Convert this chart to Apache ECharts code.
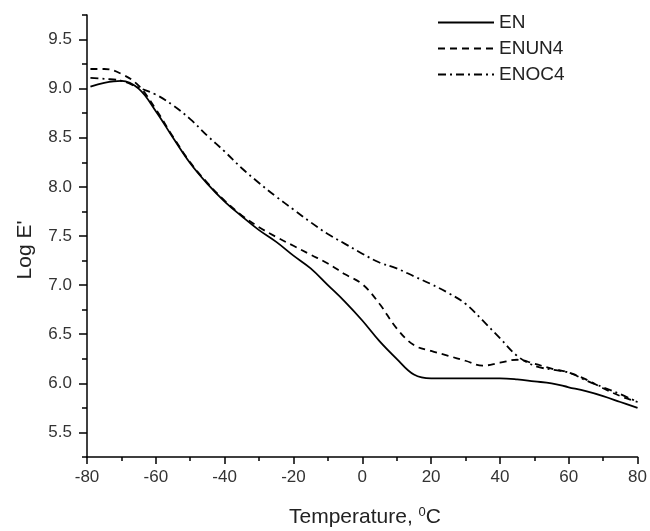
<!DOCTYPE html>
<html>
<head>
<meta charset="utf-8">
<script src="https://cdn.jsdelivr.net/npm/echarts@6/dist/echarts.min.js"></script>
<style>html,body{margin:0;padding:0;background:#fff}#c{width:650px;height:531px}</style>
</head>
<body>
<div id="c"></div>
<script>
const temps = [-79,-75,-70,-65,-60,-55,-50,-45,-40,-35,-30,-25,-20,-15,-10,-5,0,5,10,15,20,25,30,35,40,45,50,55,60,65,70,75,80];
const EN =    [9.02,9.06,9.08,9.00,8.77,8.50,8.24,8.03,7.85,7.70,7.56,7.44,7.30,7.17,7.00,6.83,6.64,6.43,6.25,6.09,6.05,6.05,6.05,6.05,6.05,6.04,6.02,6.00,5.96,5.92,5.87,5.81,5.75];
const ENUN4 = [9.20,9.20,9.15,9.03,8.79,8.51,8.25,8.04,7.86,7.71,7.59,7.49,7.40,7.31,7.22,7.11,7.01,6.81,6.56,6.39,6.33,6.28,6.23,6.18,6.21,6.24,6.20,6.15,6.11,6.04,5.95,5.87,5.81];
const ENOC4 = [9.11,9.10,9.08,9.01,8.94,8.83,8.69,8.52,8.36,8.19,8.04,7.90,7.77,7.64,7.52,7.42,7.32,7.23,7.17,7.09,7.01,6.92,6.81,6.64,6.46,6.28,6.18,6.14,6.11,6.03,5.96,5.89,5.81];
const seriesNames = ['EN','ENUN4','ENOC4'];
const xTicks = [-80,-60,-40,-20,0,20,40,60,80];
const yTicks = [5.5,6.0,6.5,7.0,7.5,8.0,8.5,9.0,9.5];

const FONT = 'Liberation Sans, Arial, sans-serif';
const chart = echarts.init(document.getElementById('c'), null, {renderer:'canvas'});
const pair = arr => temps.map((t,i)=>[t, arr[i]]);
const G = {left:87, right:10, top:15, bottom:74};
const unit = (531 - G.top - G.bottom) / 4.5;
const styles = [
  {type:'solid', width:1.8},
  {type:[7,5], width:1.8},
  {type:[8,4,2,4], width:1.8}
];
const dataSets = [EN, ENUN4, ENOC4];
chart.setOption({
  animation:false,
  backgroundColor:'#fff',
  grid:[
    {left:G.left, right:G.right, top:G.top, bottom:G.bottom},
    {left:G.left, right:G.right, top:G.top + 0.25*unit, bottom:G.bottom + 0.25*unit}
  ],
  legend:{
    orient:'vertical', left:432, top:8, itemWidth:56, itemHeight:12, itemGap:7,
    itemStyle:{opacity:0},
    textStyle:{fontFamily:FONT, fontSize:19, color:'#222'},
    data: seriesNames
  },
  xAxis:[
    {gridIndex:0, type:'value', min:-80, max:80, interval:20,
     axisLine:{onZero:false, lineStyle:{color:'#000', width:1.5}},
     axisTick:{show:true, length:7, lineStyle:{color:'#000', width:1.5}},
     minorTick:{show:true, splitNumber:2, length:4, lineStyle:{color:'#000', width:1.5}},
     splitLine:{show:false},
     axisLabel:{margin:12, fontFamily:FONT, fontSize:17, color:'#333',
       formatter: v => xTicks.includes(v) ? String(v) : ''}
    },
    {gridIndex:1, type:'value', min:-80, max:80, show:false}
  ],
  yAxis:[
    {gridIndex:0, type:'value', min:5.25, max:9.75, interval:0.25,
     axisLine:{show:true, onZero:false, lineStyle:{color:'#000', width:1.5}},
     axisTick:{show:true, length:5, lineStyle:{color:'#000', width:1.5}},
     splitLine:{show:false},
     axisLabel:{show:false}
    },
    {gridIndex:1, type:'value', min:5.5, max:9.5, interval:0.5,
     axisLine:{show:false, onZero:false},
     axisTick:{show:true, length:8, lineStyle:{color:'#000', width:1.5}},
     splitLine:{show:false},
     axisLabel:{margin:15, fontFamily:FONT, fontSize:17, color:'#333',
       formatter: v => { const t = yTicks.find(y=>Math.abs(y-v)<1e-6); return t===undefined?'':t.toFixed(1); }}
    }
  ],
  series: seriesNames.map((n,i)=>({
    name:n, type:'line', xAxisIndex:0, yAxisIndex:0, data:pair(dataSets[i]),
    smooth:0.4, symbol:'none', showSymbol:false,
    lineStyle:{color:'#000', type:styles[i].type, width:styles[i].width},
    itemStyle:{color:'#000'}
  })),
  graphic:[
    {type:'text', x:25, y:250, rotation:Math.PI/2,
     style:{text:"Log E'", fontFamily:FONT, fontSize:21, fill:'#222', align:'center', verticalAlign:'middle'}},
    {type:'text', x:365, y:517,
     style:{text:'{a|Temperature, }{s|0}{a|C}', align:'center', verticalAlign:'middle',
       rich:{a:{fontFamily:FONT, fontSize:21, fill:'#222', color:'#222'},
             s:{fontFamily:FONT, fontSize:13, fill:'#222', color:'#222', verticalAlign:'top', padding:[0,0,10,0]}}}}
  ]
});
</script>
</body>
</html>
